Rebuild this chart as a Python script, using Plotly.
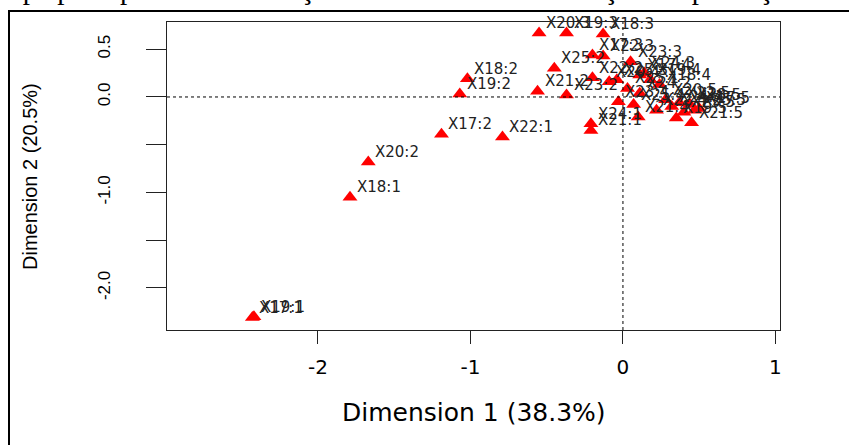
import plotly.graph_objects as go

labels = ["X17:1", "X19:1", "X18:1", "X20:2", "X17:2", "X22:1", "X18:2", "X19:2",
          "X21:2", "X23:2", "X25:2", "X20:3", "X19:3", "X18:3", "X17:3", "X22:3",
          "X23:3", "X24:3", "X22:2", "X20:4", "X25:3", "X17:4", "X19:4", "X18:4",
          "X23:4", "X25:4", "X24:1", "X21:1", "X21:4", "X22:4", "X24:4", "X19:5",
          "X21:5", "X23:5", "X18:5", "X17:5", "X20:5", "X22:5", "X25:5", "X24:2",
          "X25:1"]
dim1 = [-2.43, -2.42, -1.79, -1.67, -1.19, -0.79, -1.02, -1.07,
        -0.56, -0.37, -0.45, -0.55, -0.37, -0.13, -0.20, -0.13,
        0.05, 0.14, -0.20, -0.09, -0.04, 0.11, 0.18, 0.24,
        -0.03, 0.07, -0.21, -0.21, 0.10, 0.22, 0.32, 0.35,
        0.45, 0.40, 0.44, 0.50, 0.28, 0.37, 0.47, 0.11,
        0.03]
dim2 = [-2.31, -2.30, -1.05, -0.68, -0.39, -0.42, 0.19, 0.03,
        0.06, 0.02, 0.30, 0.67, 0.67, 0.66, 0.44, 0.43,
        0.37, 0.25, 0.20, 0.16, 0.18, 0.23, 0.18, 0.13,
        -0.05, -0.08, -0.28, -0.35, -0.21, -0.14, -0.10, -0.22,
        -0.27, -0.16, -0.08, -0.12, -0.03, -0.06, -0.14, 0.04,
        0.09]

x_ticks = [-2, -1, 0, 1]
y_ticks = [0.5, 0.0, -0.5, -1.0, -1.5, -2.0]
y_ticktext = ["0.5", "0.0", "", "-1.0", "", "-2.0"]

L, R, T, B = 167, 69, 22, 115
PW, PH = 849 - L - R, 445 - T - B

def px(xp):
    return (xp - L) / PW

def py(yp):
    return (445 - B - yp) / PH

fig = go.Figure()
fig.add_trace(go.Scatter(
    x=dim1, y=dim2, mode="markers",
    marker=dict(symbol="triangle-up", size=13, color="#ff0000", line=dict(width=0)),
    cliponaxis=False, hoverinfo="skip", showlegend=False,
))

point_labels = [
    dict(x=xv, y=yv, text=lab, xref="x", yref="y", xanchor="left", yanchor="middle",
         xshift=5, yshift=10, showarrow=False,
         font=dict(family="DejaVu Sans", size=15, color="#222222"))
    for xv, yv, lab in zip(dim1, dim2, labels)
]

fig.update_layout(
    width=849, height=445,
    margin=dict(l=L, r=R, t=T, b=B),
    paper_bgcolor="white", plot_bgcolor="white",
    xaxis=dict(range=[-2.99, 1.03], tickvals=x_ticks, ticktext=[str(v) for v in x_ticks],
               showgrid=False, zeroline=False, showline=True, mirror=True, automargin=False,
               linecolor="#222222", linewidth=1, ticks="outside", ticklen=13,
               tickcolor="#222222", ticklabelstandoff=6,
               tickfont=dict(family="DejaVu Sans", size=20, color="black")),
    yaxis=dict(range=[-2.44, 0.785], tickvals=y_ticks, ticktext=y_ticktext,
               showgrid=False, zeroline=False, showline=True, mirror=True, automargin=False,
               linecolor="#222222", linewidth=1, ticks="outside", ticklen=20,
               tickcolor="#222222", tickangle=-90, ticklabelstandoff=29,
               tickfont=dict(family="Liberation Sans, Arial", size=17, color="black")),
    shapes=[
        dict(type="line", xref="x", yref="paper", x0=0, x1=0, y0=0, y1=1,
             line=dict(color="black", width=1, dash="dot")),
        dict(type="line", xref="paper", yref="y", x0=0, x1=1, y0=0, y1=0,
             line=dict(color="black", width=1, dash="dot")),
        dict(type="rect", xref="paper", yref="paper", x0=px(9), x1=px(900),
             y0=py(500), y1=py(11), line=dict(color="black", width=2)),
    ],
    annotations=point_labels + [
        dict(text="Dimension 1 (38.3%)", xref="paper", yref="paper", x=0.5, y=py(412),
             xanchor="center", yanchor="middle", showarrow=False,
             font=dict(family="DejaVu Sans", size=25, color="black")),
        dict(text="Dimension 2 (20.5%)", xref="paper", yref="paper", x=px(30), y=py(177),
             xanchor="center", yanchor="middle", showarrow=False, textangle=-90,
             font=dict(family="Liberation Sans, Arial", size=20, color="black")),
        dict(text="Mapa perceptual de correlação entre o nível de adubação e a produção de",
             xref="paper", yref="paper", x=px(-18), y=py(7),
             xanchor="left", yanchor="bottom", showarrow=False,
             font=dict(family="Liberation Serif, Times New Roman", size=29, color="black")),
    ],
)

fig.write_html("out.html", config={"displayModeBar": False},
               post_script="document.body.style.margin='0';")
